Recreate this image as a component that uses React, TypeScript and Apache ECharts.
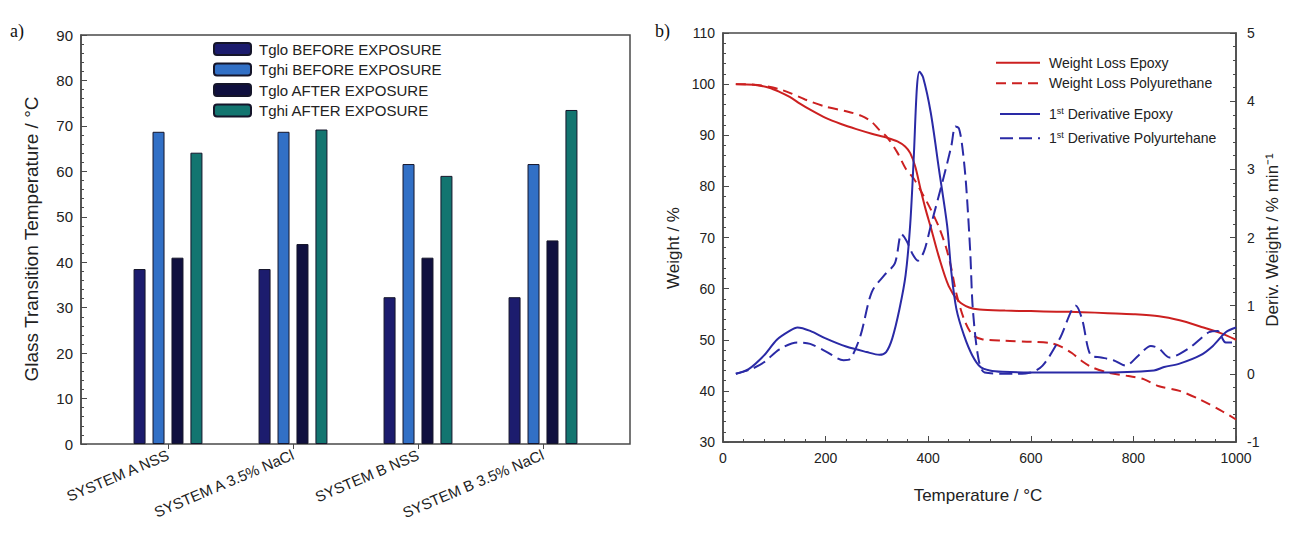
import React, { useEffect, useRef } from "react";
import * as echarts from "echarts";

// ---- Panel a): glass transition temperatures ----
const barCategories = ["SYSTEM A NSS", "SYSTEM A 3.5% NaCl", "SYSTEM B NSS", "SYSTEM B 3.5% NaCl"];
const tgloBefore = [38.5, 38.5, 32.3, 32.3];
const tghiBefore = [68.7, 68.7, 61.6, 61.6];
const tgloAfter = [41.0, 44.0, 41.0, 44.8];
const tghiAfter = [64.1, 69.2, 59.0, 73.5];

// ---- Panel b): TGA weight loss and first derivative ([°C, value]) ----
const weightLossEpoxy = [
  [25, 100], [60, 99.9], [90, 99.3], [110, 98.5], [130, 97.5], [150, 96.2], [170, 95], [200, 93.4],
  [230, 92.2], [260, 91.2], [290, 90.3], [320, 89.5], [340, 88.8], [355, 87.8], [365, 86.5],
  [375, 83.8], [385, 79.5], [395, 75.5], [405, 72], [420, 66.5], [440, 60.5], [460, 57.5],
  [480, 56.3], [500, 55.9], [550, 55.7], [600, 55.6], [650, 55.5], [700, 55.4], [750, 55.2],
  [800, 55], [850, 54.6], [890, 53.8], [930, 52.6], [970, 51.3], [1000, 50],
];
const weightLossPolyurethane = [
  [25, 100], [60, 99.9], [90, 99.5], [110, 99], [130, 98.3], [160, 97], [200, 95.6], [240, 94.7],
  [270, 93.8], [290, 92.6], [305, 91], [320, 89.6], [340, 86.6], [356, 83.5], [372, 81.5],
  [389, 78.5], [405, 75.5], [421, 72], [435, 68], [445, 64], [455, 59], [470, 54], [486, 51],
  [505, 50.1], [550, 49.8], [600, 49.6], [640, 49.3], [660, 48.6], [680, 47.4], [700, 45.8],
  [720, 44.6], [750, 43.6], [790, 42.9], [820, 42.3], [850, 40.9], [890, 40], [930, 38.3],
  [970, 36.2], [1000, 34.4],
];
const derivEpoxy = [
  [25, 0], [50, 0.07], [80, 0.27], [105, 0.5], [130, 0.63], [145, 0.68], [170, 0.63], [200, 0.52],
  [240, 0.4], [280, 0.32], [305, 0.28], [318, 0.32], [330, 0.52], [344, 0.95], [356, 1.45],
  [365, 2.2], [372, 3.2], [378, 4.2], [383, 4.43], [390, 4.35], [405, 3.83], [421, 3.0],
  [437, 2.17], [445, 1.5], [455, 0.95], [470, 0.56], [486, 0.27], [502, 0.1], [520, 0.05],
  [545, 0.03], [600, 0.02], [730, 0.02], [840, 0.05], [860, 0.1], [890, 0.15], [930, 0.27],
  [955, 0.41], [980, 0.61], [1000, 0.68],
];
const derivPolyurethane = [
  [25, 0], [55, 0.07], [80, 0.17], [110, 0.36], [145, 0.46], [170, 0.44], [200, 0.33], [235, 0.2],
  [248, 0.22], [268, 0.56], [290, 1.2], [315, 1.45], [335, 1.62], [348, 2.05], [358, 1.95],
  [370, 1.75], [380, 1.66], [392, 1.8], [405, 2.17], [429, 2.85], [445, 3.34], [453, 3.63],
  [460, 3.6], [467, 3.3], [474, 2.76], [482, 1.78], [487, 0.95], [498, 0.22], [510, 0.02],
  [567, 0], [600, 0.02], [623, 0.12], [656, 0.51], [688, 1.0], [700, 0.8], [717, 0.27],
  [737, 0.24], [761, 0.2], [785, 0.12], [810, 0.27], [834, 0.41], [850, 0.37], [870, 0.24],
  [907, 0.37], [947, 0.61], [964, 0.63], [980, 0.46], [1000, 0.46],
];

const FONT = "Liberation Sans, Arial, sans-serif";
const AXIS_COLOR = "#4a4a4a";
const TEXT_COLOR = "#222";
const RED = "#cc2020";
const BLUE = "#2a2aa6";
const RED_DASH = [10, 6];
const BLUE_DASH = [13, 6];

// Legend entries of panel b): [label (rich text), colour, dash pattern or null, line x0, y]
const lineLegend: [string, string, number[] | null, number, number][] = [
  ["Weight Loss Epoxy", RED, null, 996, 62.7],
  ["Weight Loss Polyurethane", RED, RED_DASH, 996, 83.3],
  ["1{s|st} Derivative Epoxy", BLUE, null, 1000, 114],
  ["1{s|st} Derivative Polyurtehane", BLUE, BLUE_DASH, 1000, 138.3],
];

function buildOption() {
  const tickStyle = { lineStyle: { color: AXIS_COLOR, width: 1 } };
  const valueAxisCommon = {
    axisLine: { show: true, onZero: false, lineStyle: { color: AXIS_COLOR, width: 1.5 } },
    axisTick: { show: true, inside: true, length: 6, ...tickStyle },
    minorTick: { show: true, splitNumber: 5, length: 3, ...tickStyle },
    splitLine: { show: false },
  };
  const plainNumber = (v: number) => String(v);

  const barSeries = (name: string, data: number[], color: string) => ({
    name,
    type: "bar",
    xAxisIndex: 1,
    yAxisIndex: 1,
    data,
    barWidth: 12,
    barGap: "58%",
    itemStyle: { color, borderColor: "#15152a", borderWidth: 1 },
  });

  const lineSeries = (name: string, data: number[][], color: string, yIdx: number, dashed: number[] | null) => ({
    name,
    type: "line",
    xAxisIndex: 2,
    yAxisIndex: yIdx,
    data,
    symbol: "none",
    smooth: 0.3,
    lineStyle: { color, width: 2, type: dashed ? dashed : "solid" },
    itemStyle: { color },
  });

  const legendGraphics: any[] = [];
  lineLegend.forEach(([label, color, dash, x0, y]) => {
    legendGraphics.push({
      type: "line",
      shape: { x1: x0, y1: y, x2: 1040, y2: y },
      style: { stroke: color, lineWidth: 2, lineDash: dash || undefined },
    });
    legendGraphics.push({
      type: "text",
      x: 1049,
      y,
      style: {
        text: label,
        fontSize: 14,
        fontFamily: FONT,
        fill: TEXT_COLOR,
        align: "left",
        verticalAlign: "middle",
        rich: { s: { fontSize: 9, fontFamily: FONT, fill: TEXT_COLOR, padding: [0, 0, 7, 0] } },
      },
    });
  });

  return {
    animation: false,
    textStyle: { fontFamily: FONT },
    grid: [
      { left: 81, top: 35, width: 549, height: 409, show: true, borderColor: AXIS_COLOR, borderWidth: 1.5, backgroundColor: "transparent" },
      { left: 105.5, top: 35, width: 500, height: 409 },
      { left: 723, top: 33, width: 513, height: 409, show: true, borderColor: AXIS_COLOR, borderWidth: 1.5, backgroundColor: "transparent" },
    ],
    xAxis: [
      { gridIndex: 0, type: "value", min: 0, max: 1, show: false },
      {
        gridIndex: 1,
        type: "category",
        data: barCategories,
        axisLine: { show: false },
        axisTick: { show: true, alignWithLabel: true, length: 5, lineStyle: { color: AXIS_COLOR } },
        axisLabel: { interval: 0, rotate: 23, fontSize: 15, color: TEXT_COLOR, margin: 10, fontFamily: FONT },
      },
      {
        gridIndex: 2,
        type: "value",
        min: 0,
        max: 1000,
        interval: 200,
        ...valueAxisCommon,
        axisLabel: { fontSize: 14, color: TEXT_COLOR, margin: 9, fontFamily: FONT, formatter: plainNumber },
      },
    ],
    yAxis: [
      {
        gridIndex: 0,
        type: "value",
        min: 0,
        max: 90,
        interval: 10,
        ...valueAxisCommon,
        axisLabel: { fontSize: 15, color: TEXT_COLOR, margin: 8, fontFamily: FONT },
      },
      { gridIndex: 1, type: "value", min: 0, max: 90, show: false },
      {
        gridIndex: 2,
        type: "value",
        min: 30,
        max: 110,
        interval: 10,
        position: "left",
        ...valueAxisCommon,
        axisLabel: { fontSize: 14, color: TEXT_COLOR, margin: 8, fontFamily: FONT },
      },
      {
        gridIndex: 2,
        type: "value",
        min: -1,
        max: 5,
        interval: 1,
        position: "right",
        ...valueAxisCommon,
        axisLabel: { fontSize: 14, color: TEXT_COLOR, margin: 11, fontFamily: FONT },
      },
    ],
    legend: [
      {
        orient: "vertical",
        left: 213,
        top: 41.5,
        padding: 0,
        itemWidth: 37,
        itemHeight: 12,
        itemGap: 5.5,
        textStyle: { fontSize: 15, lineHeight: 15, color: TEXT_COLOR, fontFamily: FONT, padding: [0, 0, 0, 3] },
        data: ["Tglo BEFORE EXPOSURE", "Tghi BEFORE EXPOSURE", "Tglo AFTER EXPOSURE", "Tghi AFTER EXPOSURE"],
      },
    ],
    series: [
      barSeries("Tglo BEFORE EXPOSURE", tgloBefore, "#1c1c6e"),
      barSeries("Tghi BEFORE EXPOSURE", tghiBefore, "#3270c6"),
      barSeries("Tglo AFTER EXPOSURE", tgloAfter, "#10103f"),
      barSeries("Tghi AFTER EXPOSURE", tghiAfter, "#137570"),
      lineSeries("Weight Loss Epoxy", weightLossEpoxy, RED, 2, null),
      lineSeries("Weight Loss Polyurethane", weightLossPolyurethane, RED, 2, RED_DASH),
      lineSeries("1st Derivative Epoxy", derivEpoxy, BLUE, 3, null),
      lineSeries("1st Derivative Polyurtehane", derivPolyurethane, BLUE, 3, BLUE_DASH),
    ],
    graphic: [
      { type: "text", x: 10, y: 31, style: { text: "a)", font: "18px 'Liberation Serif', serif", fill: "#111", align: "left", verticalAlign: "middle" } },
      { type: "text", x: 655, y: 31, style: { text: "b)", font: "18px 'Liberation Serif', serif", fill: "#111", align: "left", verticalAlign: "middle" } },
      {
        type: "text", x: 31, y: 239, rotation: Math.PI / 2,
        style: { text: "Glass Transition Temperature / °C", font: `19px ${FONT}`, fill: TEXT_COLOR, align: "center", verticalAlign: "middle" },
      },
      {
        type: "text", x: 673, y: 248, rotation: Math.PI / 2,
        style: { text: "Weight / %", font: `17px ${FONT}`, fill: TEXT_COLOR, align: "center", verticalAlign: "middle" },
      },
      {
        type: "text", x: 1272, y: 240, rotation: Math.PI / 2,
        style: { text: "Deriv. Weight / % min⁻¹", font: `17px ${FONT}`, fill: TEXT_COLOR, align: "center", verticalAlign: "middle" },
      },
      {
        type: "text", x: 978, y: 495,
        style: { text: "Temperature / °C", font: `17px ${FONT}`, fill: TEXT_COLOR, align: "center", verticalAlign: "middle" },
      },
      ...legendGraphics,
    ],
  };
}

export default function App() {
  const ref = useRef<HTMLDivElement>(null);
  useEffect(() => {
    if (!ref.current) return;
    const chart = echarts.init(ref.current, undefined, { renderer: "svg" });
    chart.setOption(buildOption() as any);
    return () => chart.dispose();
  }, []);
  return (
    <div
      ref={ref}
      style={{ position: "absolute", left: 0, top: 0, width: 1289, height: 533, background: "#fff" }}
    />
  );
}
